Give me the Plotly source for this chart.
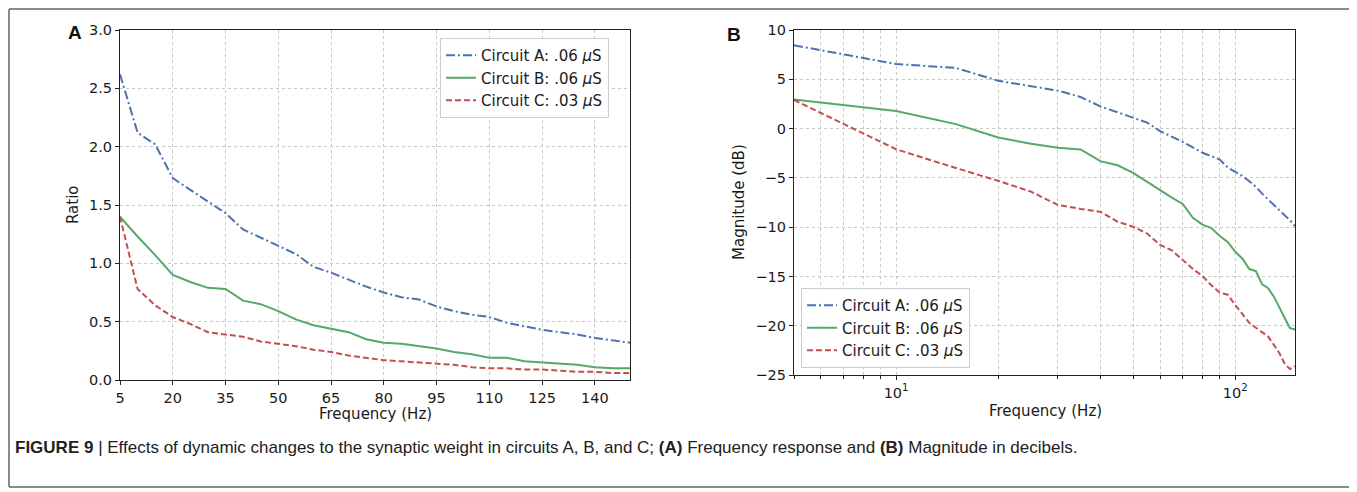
import plotly.graph_objects as go

W, H = 1357, 492
OX, OY = 8, 8  # page body margin offset

# frequencies (Hz)
freq = [5, 10, 15, 20, 25, 30, 35, 40, 45, 50, 55, 60, 65, 70, 75,
        80, 85, 90, 95, 100, 105, 110, 115, 120, 125, 130, 135, 140, 145, 150]

# panel A: ratio
ratio_a = [2.62, 2.12, 2.02, 1.73, 1.63, 1.53, 1.43, 1.29, 1.22, 1.15, 1.08, 0.97, 0.92, 0.86, 0.80,
           0.75, 0.71, 0.69, 0.63, 0.59, 0.56, 0.54, 0.49, 0.46, 0.43, 0.41, 0.39, 0.36, 0.34, 0.32]
ratio_b = [1.40, 1.23, 1.07, 0.90, 0.84, 0.79, 0.78, 0.68, 0.65, 0.59, 0.52, 0.47, 0.44, 0.41, 0.35,
           0.32, 0.31, 0.29, 0.27, 0.24, 0.22, 0.19, 0.19, 0.16, 0.15, 0.14, 0.13, 0.11, 0.10, 0.10]
ratio_c = [1.40, 0.78, 0.64, 0.54, 0.48, 0.41, 0.39, 0.37, 0.33, 0.31, 0.29, 0.26, 0.24, 0.21, 0.19,
           0.17, 0.16, 0.15, 0.14, 0.13, 0.11, 0.10, 0.10, 0.09, 0.09, 0.08, 0.07, 0.07, 0.06, 0.06]

# panel B: magnitude (dB)
mag_a = [8.45, 6.55, 6.15, 4.85, 4.3, 3.85, 3.2, 2.25, 1.65, 1.1, 0.6, -0.25, -0.8, -1.35, -1.9,
         -2.45, -2.8, -3.15, -3.95, -4.4, -4.8, -5.35, -5.9, -6.6, -7.15, -7.75, -8.3, -8.8, -9.3, -9.9]
mag_b = [2.95, 1.78, 0.45, -0.9, -1.55, -1.95, -2.12, -3.3, -3.72, -4.5, -5.4, -6.25, -7.0, -7.65, -9.05,
         -9.75, -10.1, -10.9, -11.5, -12.5, -13.2, -14.25, -14.45, -15.8, -16.2, -17.05, -18.25, -19.25, -20.25, -20.4]
mag_c = [2.9, -2.1, -4.0, -5.3, -6.4, -7.75, -8.15, -8.45, -9.45, -9.95, -10.65, -11.8, -12.35, -13.35, -14.25,
         -14.95, -15.9, -16.65, -16.85, -17.9, -18.85, -19.7, -20.2, -20.7, -21.1, -21.95, -22.8, -23.9, -24.4, -24.1]

names = ["Circuit A: .06 <i>μ</i>S", "Circuit B: .06 <i>μ</i>S", "Circuit C: .03 <i>μ</i>S"]
colors = ["#4C72B0", "#55A868", "#C44E52"]
dashes = ["9px,3px,2px,3px", "solid", "6px,3px"]

FONT = "DejaVu Sans"
TXT = "#1a1a1a"


def px(x):
    return (x - OX) / W


def py(y):
    return 1 - (y - OY) / H


fig = go.Figure()
for ys, nm, c, d in zip([ratio_a, ratio_b, ratio_c], names, colors, dashes):
    fig.add_trace(go.Scatter(x=freq, y=ys, name=nm, mode="lines",
                             line=dict(color=c, dash=d, width=2),
                             xaxis="x", yaxis="y", legend="legend"))
for ys, nm, c, d in zip([mag_a, mag_b, mag_c], names, colors, dashes):
    fig.add_trace(go.Scatter(x=freq, y=ys, name=nm, mode="lines",
                             line=dict(color=c, dash=d, width=2),
                             xaxis="x2", yaxis="y2", legend="legend2"))

ax_common = dict(showline=True, linecolor="#222", linewidth=1.2, mirror=True,
                 ticks="outside", ticklen=4, tickcolor="#222",
                 showgrid=True, gridcolor="#c8c8c8", griddash="dot", gridwidth=1,
                 zeroline=False, automargin=False,
                 tickfont=dict(family=FONT, size=14.5, color=TXT))

fig.update_layout(
    width=W, height=H, autosize=False,
    margin=dict(l=0, r=0, t=0, b=0, pad=0, autoexpand=False),
    paper_bgcolor="white", plot_bgcolor="white",
    font=dict(family=FONT, size=15, color=TXT),
    xaxis=dict(domain=[px(120), px(630)], range=[5, 150],
               tickvals=[5, 20, 35, 50, 65, 80, 95, 110, 125, 140], anchor="y", **ax_common),
    yaxis=dict(domain=[py(380), py(30)], range=[0, 3], dtick=0.5, tickformat=".1f",
               anchor="x", **ax_common),
    xaxis2=dict(domain=[px(794), px(1295)], type="log", range=[0.69897, 2.17609],
                tickvals=[10, 100], ticktext=["10<sup>1</sup>", "10<sup>2</sup>"],
                minor=dict(tickvals=[5, 6, 7, 8, 9, 20, 30, 40, 50, 60, 70, 80, 90],
                           showgrid=True, gridcolor="#c8c8c8", griddash="dot",
                           ticks="outside", ticklen=2.5, tickcolor="#222"),
                anchor="y2", **ax_common),
    yaxis2=dict(domain=[py(375), py(30)], range=[-25, 10], dtick=5,
                anchor="x2", **ax_common),
    legend=dict(x=px(440), y=py(38), xanchor="left", yanchor="top",
                bgcolor="rgba(255,255,255,0.9)", bordercolor="#cccccc", borderwidth=1,
                font=dict(family=FONT, size=15, color=TXT), tracegroupgap=0),
    legend2=dict(x=px(801), y=py(288), xanchor="left", yanchor="top",
                 bgcolor="rgba(255,255,255,0.9)", bordercolor="#cccccc", borderwidth=1,
                 font=dict(family=FONT, size=15, color=TXT), tracegroupgap=0),
)

# outer frame of the figure panel
frame = dict(xref="paper", yref="paper", line=dict(color="#8a8a8a", width=2))
fig.add_shape(type="line", x0=px(9), x1=px(1350), y0=py(9), y1=py(9), **frame)
fig.add_shape(type="line", x0=px(9), x1=px(1350), y0=py(487), y1=py(487), **frame)
fig.add_shape(type="line", x0=px(9), x1=px(9), y0=py(9), y1=py(487), **frame)
fig.add_shape(type="line", x0=px(1350), x1=px(1350), y0=py(9), y1=py(487), **frame)

ann = [
    dict(text="<b>A</b>", x=px(75), y=py(32), font=dict(family="Liberation Sans", size=19, color="#111")),
    dict(text="<b>B</b>", x=px(734), y=py(34), font=dict(family="Liberation Sans", size=19, color="#111")),
    dict(text="Ratio", x=px(73), y=py(205), textangle=-90),
    dict(text="Frequency (Hz)", x=px(375), y=py(414)),
    dict(text="Magnitude (dB)", x=px(739), y=py(202), textangle=-90),
    dict(text="Frequency (Hz)", x=px(1045), y=py(411)),
]
for a in ann:
    a.setdefault("font", dict(family=FONT, size=15, color=TXT))
    fig.add_annotation(xref="paper", yref="paper", showarrow=False,
                       xanchor="center", yanchor="middle", **a)

fig.add_annotation(
    xref="paper", yref="paper", x=px(13), y=py(447), xanchor="left", yanchor="middle",
    showarrow=False,
    text="<b>FIGURE 9</b> | Effects of dynamic changes to the synaptic weight in circuits A, B, and C; "
         "<b>(A)</b> Frequency response and <b>(B)</b> Magnitude in decibels.",
    font=dict(family="Liberation Sans", size=17, color="#222"))

fig.write_html("out.html")
